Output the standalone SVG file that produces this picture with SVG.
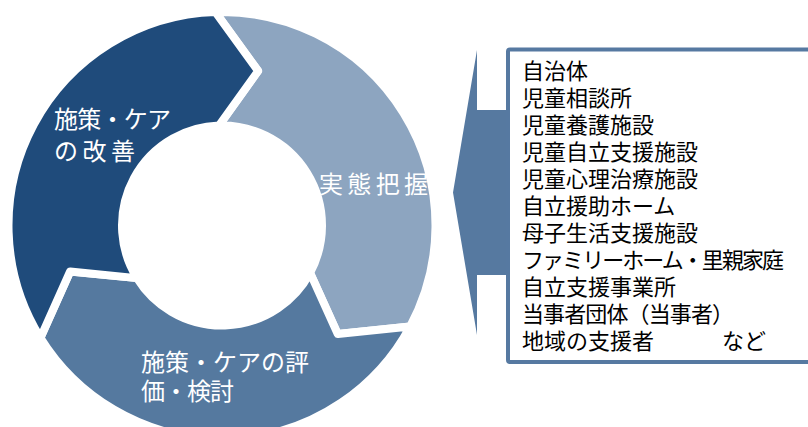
<svg xmlns="http://www.w3.org/2000/svg" width="808" height="427" viewBox="0 0 808 427">
<style>
.seg{stroke:#ffffff;stroke-width:8;stroke-linejoin:round}
.rt{font-family:"Noto Sans CJK JP","Noto Sans",sans-serif;font-size:24px;fill:#ffffff}
.lt{font-family:"Noto Sans CJK JP","Noto Sans",sans-serif;font-size:22px;fill:#000000}
</style>
<rect width="808" height="427" fill="#ffffff"/>
<g id="node-jittai">
<path class="seg" fill="#8DA5C0" d="M215.48,12.10 A213.5,213.5 0 0 1 410.07,326.55 L337.78,334.04 L310.09,272.83 A100,100 0 0 0 218.95,125.55 L258.10,70.96 Z"/>
<text class="rt" x="319" y="193" textLength="109" lengthAdjust="spacing">実態把握</text>
</g>
<g id="node-hyoka">
<path class="seg" fill="#55799F" d="M410.07,326.55 A213.5,213.5 0 0 1 40.45,337.85 L70.11,271.50 L136.97,278.12 A100,100 0 0 0 310.09,272.83 L337.78,334.04 Z"/>
<text class="rt" x="141" y="371" textLength="168" lengthAdjust="spacing">施策・ケアの評</text>
<text class="rt" x="141" y="400" textLength="93" lengthAdjust="spacing">価・検討</text>
</g>
<g id="node-kaizen">
<path class="seg" fill="#1F4B7B" d="M40.45,337.85 A213.5,213.5 0 0 1 215.48,12.10 L258.10,70.96 L218.95,125.55 A100,100 0 0 0 136.97,278.12 L70.11,271.50 Z"/>
<text class="rt" x="54" y="128" textLength="117" lengthAdjust="spacing">施策・ケア</text>
<text class="rt" x="54" y="160" textLength="81" lengthAdjust="spacing">の改善</text>
</g>
<g id="connectors">
<polygon fill="#5679A0" points="453,192.5 477,50 477,110 510,110 510,275 477,275 477,335"/>
</g>
<g id="node-list">
<rect x="508" y="49.5" width="330" height="312.5" rx="2" fill="#ffffff" stroke="#5679A1" stroke-width="4"/>
<text class="lt" x="522" y="79">自治体</text>
<text class="lt" x="522" y="106">児童相談所</text>
<text class="lt" x="522" y="133">児童養護施設</text>
<text class="lt" x="522" y="160">児童自立支援施設</text>
<text class="lt" x="522" y="187">児童心理治療施設</text>
<text class="lt" x="522" y="214">自立援助ホーム</text>
<text class="lt" x="522" y="241">母子生活支援施設</text>
<text class="lt" x="522" y="268" textLength="262" lengthAdjust="spacing">ファミリーホーム・里親家庭</text>
<text class="lt" x="522" y="295">自立支援事業所</text>
<text class="lt" x="522" y="322" textLength="212" lengthAdjust="spacing">当事者団体（当事者）</text>
<text class="lt" x="522" y="349">地域の支援者<tspan x="722">など</tspan></text>
</g>
</svg>
